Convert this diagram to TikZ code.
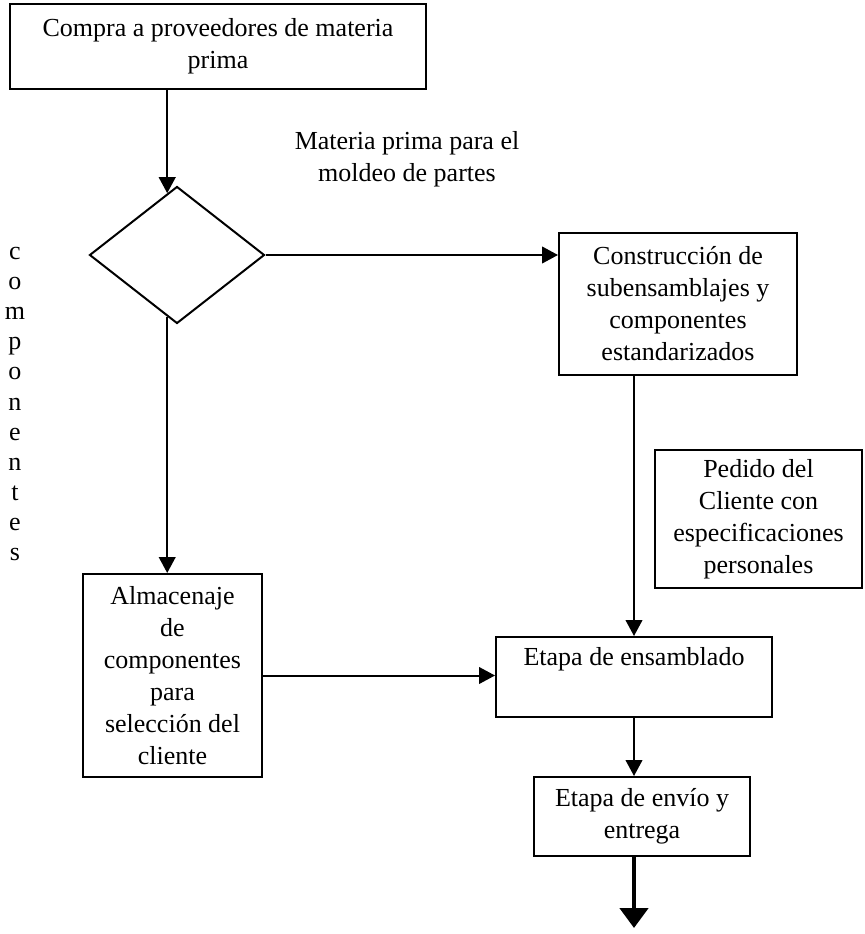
\documentclass[tikz,border=0pt]{standalone}
\usepackage{fontspec}
\setmainfont{Liberation Serif}
\usetikzlibrary{shapes.geometric,arrows.meta}
\begin{document}
\begin{tikzpicture}[x=0.75pt,y=-0.75pt,
  every node/.style={font=\fontsize{19.5pt}{24pt}\selectfont},
  box/.style={draw, line width=1.5pt, rectangle, align=center, inner sep=0pt},
  dia/.style={draw, line width=1.5pt, diamond, inner sep=0pt, minimum width=131.25pt, minimum height=102.75pt},
  arr/.style={line width=1.5pt, -{Triangle[length=12pt,width=12.5pt]}},
  thickarr/.style={line width=3.5pt, -{Triangle[length=15pt,width=21pt]}}
]
\useasboundingbox (0,0) rectangle (864,934);
\node[box, minimum width=312pt, minimum height=63.75pt] (top) at (218,46.5) {Compra a proveedores de materia\\prima};
\node[dia] (d) at (177,255) {};
\node[align=center] (lab) at (407,159) {Materia prima para el\\moldeo de partes};
\node[box, minimum width=178.5pt, minimum height=106.5pt] (cons) at (678,304) {Construcción de\\subensamblajes y\\componentes\\estandarizados};
\node[align=center, font=\fontsize{19.5pt}{22.6pt}\selectfont] (vert) at (15,404) {c\\o\\m\\p\\o\\n\\e\\n\\t\\e\\s};
\node[box, minimum width=155.25pt, minimum height=103.5pt] (ped) at (758.5,519) {Pedido del\\Cliente con\\especificaciones\\personales};
\node[box, minimum width=134.25pt, minimum height=152.25pt] (alm) at (172.5,675.5) {Almacenaje\\de\\componentes\\para\\selección del\\cliente};
\node[box, minimum width=207pt, minimum height=60pt] (ens) at (634,677) {Etapa de ensamblado\\\strut};
\node[box, minimum width=162pt, minimum height=59.25pt] (env) at (642,816.5) {Etapa de envío y\\entrega};
\coordinate (endpt) at (634,928);
\draw[arr] (top.south -| d.99) -- (d.99);
\draw[arr] (d.east) -- (d.east -| cons.west);
\draw[arr] (d.261) -- (d.261 |- alm.north);
\draw[arr] (cons.south -| ens.north) -- (ens.north);
\draw[arr] (alm.east) -- (alm.east -| ens.west);
\draw[arr] (ens.south) -- (ens.south |- env.north);
\draw[thickarr] (env.south -| endpt) -- (endpt);
\end{tikzpicture}
\end{document}
